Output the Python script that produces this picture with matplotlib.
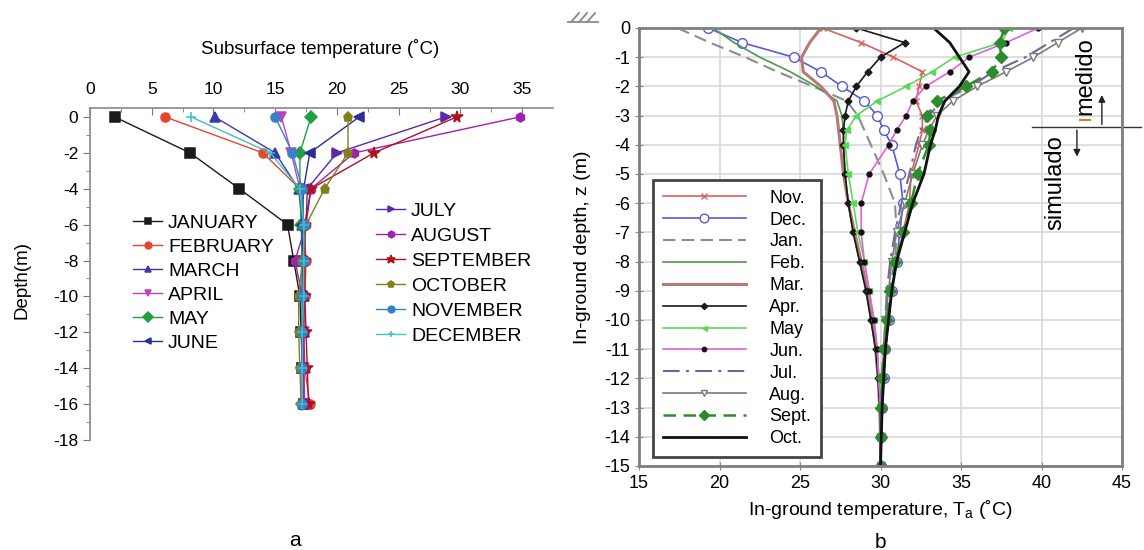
import matplotlib
matplotlib.use("Agg")
import matplotlib.pyplot as plt
from matplotlib.lines import Line2D

plt.rcParams['font.family'] = ['Liberation Sans', 'DejaVu Sans']
plt.rcParams['axes.unicode_minus'] = False
plt.rcParams['mathtext.fontset'] = 'custom'
plt.rcParams['mathtext.rm'] = 'Liberation Sans'
plt.rcParams['mathtext.it'] = 'Liberation Sans'

# ---------------- Panel a data ----------------
depth_a = [0, -2, -4, -6, -8, -10, -12, -14, -16]
months_a = ["JANUARY", "FEBRUARY", "MARCH", "APRIL", "MAY", "JUNE",
            "JULY", "AUGUST", "SEPTEMBER", "OCTOBER", "NOVEMBER", "DECEMBER"]
jan_a = [2.0, 8.1, 12.1, 16.0, 16.5, 17.0, 17.1, 17.2, 17.3]
feb_a = [6.1, 14.0, 17.0, 17.3, 17.5, 17.4, 17.3, 17.4, 17.8]
mar_a = [10.1, 15.0, 16.9, 17.2, 17.2, 17.3, 17.3, 17.3, 17.3]
apr_a = [15.5, 16.3, 17.0, 17.3, 17.2, 17.2, 17.3, 17.3, 17.4]
may_a = [17.9, 17.0, 17.0, 17.1, 17.2, 17.2, 17.2, 17.2, 17.2]
jun_a = [21.8, 17.8, 17.3, 17.2, 17.2, 17.2, 17.2, 17.2, 17.2]
jul_a = [28.8, 20.0, 17.6, 17.5, 17.3, 17.3, 17.3, 17.3, 17.3]
aug_a = [34.8, 21.4, 17.9, 17.5, 16.6, 17.2, 17.3, 17.3, 17.3]
sep_a = [29.7, 23.0, 17.9, 17.4, 17.4, 17.4, 17.5, 17.6, 17.7]
oct_a = [20.9, 20.9, 19.0, 17.5, 17.2, 16.9, 16.9, 17.0, 17.1]
nov_a = [15.0, 16.4, 17.2, 17.3, 17.3, 17.2, 17.2, 17.2, 17.2]
dec_a = [8.2, 14.6, 17.0, 17.3, 17.3, 17.3, 17.2, 17.2, 17.2]
series_a = [jan_a, feb_a, mar_a, apr_a, may_a, jun_a, jul_a, aug_a, sep_a, oct_a, nov_a, dec_a]
xticks_a = [0, 5, 10, 15, 20, 25, 30, 35]
yticks_a = [0, -2, -4, -6, -8, -10, -12, -14, -16, -18]

# ---------------- Panel b data ----------------
depth_b = [0, -0.5, -1, -1.5, -2, -2.5, -3, -3.5, -4, -5, -6, -7, -8, -9, -10, -11, -12, -13, -14, -15]
months_b = ["Nov.", "Dec.", "Jan.", "Feb.", "Mar.", "Apr.", "May", "Jun.", "Jul.", "Aug.", "Sept.", "Oct."]
nov_b = [26.4, 28.8, 30.8, 32.6, 32.4, 32.2, 32.6, 32.6, 32.4, 31.9, 31.8, 31.4, 31.0, 30.7, 30.5, 30.3, 30.2, 30.1, 30.05, 30.0]
dec_b = [19.3, 21.4, 24.6, 26.3, 27.6, 29.0, 29.8, 30.2, 30.7, 31.2, 31.4, 31.2, 31.0, 30.7, 30.5, 30.3, 30.2, 30.1, 30.05, 30.0]
jan_b = [17.4, 19.4, 21.6, 23.6, 25.8, 27.9, 28.6, 29.0, 29.4, 30.2, 30.9, 31.0, 30.9, 30.7, 30.5, 30.3, 30.2, 30.1, 30.05, 30.0]
feb_b = [19.6, 20.9, 22.5, 24.4, 26.0, 27.3, 27.6, 27.7, 27.7, 27.8, 28.0, 28.3, 28.7, 29.1, 29.4, 29.7, 29.85, 29.95, 30.0, 30.0]
mar_b = [26.3, 25.6, 25.1, 25.2, 26.3, 27.1, 27.3, 27.4, 27.5, 27.7, 28.0, 28.4, 28.8, 29.2, 29.5, 29.7, 29.85, 29.95, 30.0, 30.0]
apr_b = [28.5, 31.5, 30.0, 29.2, 28.5, 28.0, 27.8, 27.7, 27.7, 27.8, 28.0, 28.3, 28.7, 29.1, 29.4, 29.7, 29.85, 29.95, 30.0, 30.0]
may_b = [38.0, 37.5, 34.6, 33.2, 31.6, 29.8, 28.5, 27.9, 27.8, 28.0, 28.3, 28.6, 29.0, 29.3, 29.6, 29.8, 29.9, 30.0, 30.0, 30.0]
jun_b = [39.8, 37.8, 35.5, 34.3, 32.8, 32.0, 31.6, 31.0, 30.5, 29.3, 28.8, 28.8, 29.0, 29.3, 29.6, 29.8, 29.9, 30.0, 30.0, 30.0]
jul_b = [42.0, 40.5, 39.0, 37.0, 35.6, 33.8, 33.0, 32.5, 32.2, 31.8, 31.3, 30.9, 30.6, 30.4, 30.3, 30.2, 30.1, 30.05, 30.0, 30.0]
aug_b = [42.5, 41.0, 39.5, 37.8, 36.0, 34.5, 33.5, 33.0, 32.6, 32.0, 31.5, 31.0, 30.7, 30.5, 30.3, 30.2, 30.1, 30.05, 30.0, 30.0]
sep_b = [37.7, 37.4, 37.5, 36.9, 35.3, 33.5, 32.9, 33.1, 33.0, 32.3, 31.9, 31.4, 30.9, 30.6, 30.4, 30.2, 30.1, 30.05, 30.0, 30.0]
oct_b = [33.3, 34.3, 34.9, 35.5, 34.9, 34.0, 33.6, 33.4, 33.1, 32.7, 32.0, 31.5, 31.0, 30.7, 30.5, 30.3, 30.2, 30.1, 30.05, 30.0]
series_b = [nov_b, dec_b, jan_b, feb_b, mar_b, apr_b, may_b, jun_b, jul_b, aug_b, sep_b, oct_b]
xticks_b = [15, 20, 25, 30, 35, 40, 45]
yticks_b = list(range(0, -16, -1))

W, H = 1144, 550
fig = plt.figure(figsize=(W / 100, H / 100), dpi=100)

def fx(px):
    return px / W

def fy(py):
    return 1 - py / H

# ---------------- Panel a ----------------
axa = fig.add_axes([fx(90), fy(440), fx(553) - fx(90), fy(108) - fy(440)])
styles_a = [
    dict(color='#1a1a1a', marker='s'),
    dict(color='#e8452c', marker='o'),
    dict(color='#3a3aa8', marker='^'),
    dict(color='#c040c0', marker='v'),
    dict(color='#20a040', marker='D'),
    dict(color='#2c2c9c', marker='<'),
    dict(color='#5a28a8', marker='>'),
    dict(color='#a020b0', marker='h'),
    dict(color='#b01020', marker='*'),
    dict(color='#808018', marker='p'),
    dict(color='#3a80c8', marker='o'),
    dict(color='#40c0c0', marker='+'),
]
handles_a = []
for name, vals, st in zip(months_a, series_a, styles_a):
    h, = axa.plot(vals, depth_a, color=st['color'], marker=st['marker'], lw=1.0,
                  markersize=6.5 if st['marker'] != '*' else 8.5, label=name,
                  markeredgewidth=1.1)
    handles_a.append(h)

axa.set_xlim(0, 37.5)
axa.set_ylim(-18, 0.5)
axa.xaxis.tick_top()
axa.set_xticks(xticks_a)
axa.set_xticks([2.5 + 5 * i for i in range(7)], minor=True)
axa.set_yticks(yticks_a)
axa.set_yticks(list(range(-17, 0, 2)), minor=True)
axa.tick_params(axis='x', which='both', direction='in', color='#777', labelsize=12.5, pad=8)
axa.tick_params(axis='x', which='major', length=5)
axa.tick_params(axis='x', which='minor', length=3)
axa.tick_params(axis='y', which='both', direction='out', color='#777', labelsize=12.5)
axa.tick_params(axis='y', which='major', length=5)
axa.tick_params(axis='y', which='minor', length=3)
for s in ['right', 'bottom']:
    axa.spines[s].set_visible(False)
for s in ['left', 'top']:
    axa.spines[s].set_color('#888')
    axa.spines[s].set_linewidth(1.2)

leg1 = axa.legend(handles=handles_a[:6], loc='upper left',
                  frameon=False, fontsize=14, handlelength=1.5, handletextpad=0.3,
                  labelspacing=0.33, borderaxespad=0, borderpad=0, markerscale=0.75)
leg1.set_bbox_to_anchor((fx(133), fy(214)), transform=fig.transFigure)
axa.add_artist(leg1)
leg2 = axa.legend(handles=handles_a[6:], loc='upper left',
                  frameon=False, fontsize=14, handlelength=1.5, handletextpad=0.3,
                  labelspacing=0.38, borderaxespad=0, borderpad=0, markerscale=0.75)
leg2.set_bbox_to_anchor((fx(376), fy(202)), transform=fig.transFigure)

fig.text(fx(320), fy(48), "Subsurface temperature (˚C)", ha='center', va='center', fontsize=13.5)
fig.text(fx(22), fy(280), "Depth(m)", ha='center', va='center', rotation=90, fontsize=13.5)
fig.text(fx(295), fy(540), "a", ha='center', va='center', fontsize=15)

# ---------------- Panel b ----------------
axb = fig.add_axes([fx(639), fy(466), fx(1122) - fx(639), fy(28) - fy(466)])
styles_b = [
    dict(color='#d96060', ls='-', marker='x', ms=5, lw=1.2, mfc='#d96060'),
    dict(color='#5a5ad8', ls='-', marker='o', ms=7, lw=1.2, mfc='white'),
    dict(color='#8c8c8c', ls=(0, (6, 3)), marker=None, ms=0, lw=1.5, mfc='none'),
    dict(color='#4a9a4a', ls='-', marker=None, ms=0, lw=1.2, mfc='none'),
    dict(color='#b87878', ls='-', marker=None, ms=0, lw=2.2, mfc='none'),
    dict(color='#1a1a1a', ls='-', marker='D', ms=3.5, lw=1.2, mfc='#1a1a1a'),
    dict(color='#5ad85a', ls='-', marker='<', ms=4, lw=1.2, mfc='#5ad85a'),
    dict(color='#e060e0', ls='-', marker='o', ms=3.5, lw=1.2, mfc='#111'),
    dict(color='#6a6a9a', ls=(0, (8, 3, 1.5, 3)), marker=None, ms=0, lw=1.5, mfc='none'),
    dict(color='#7a7a7a', ls='-', marker='v', ms=5.5, lw=1.2, mfc='white'),
    dict(color='#2e8b2e', ls=(0, (5, 3)), marker='D', ms=6, lw=1.8, mfc='#2e8b2e'),
    dict(color='#111111', ls='-', marker=None, ms=0, lw=2.0, mfc='none'),
]
handles_b = []
for name, vals, st in zip(months_b, series_b, styles_b):
    h, = axb.plot(vals, depth_b, color=st['color'], ls=st['ls'], lw=st['lw'],
                  marker=st['marker'], markersize=st['ms'], mfc=st['mfc'],
                  mec=st['color'] if st['mfc'] != '#111' else '#111', label=name)
    handles_b.append(h)

axb.set_xlim(15, 45)
axb.set_ylim(-15, 0)
axb.set_xticks(xticks_b)
axb.set_yticks(yticks_b)
axb.grid(True, color='#d9d9d9', lw=1.2)
axb.set_axisbelow(True)
axb.tick_params(axis='both', direction='inout', length=6, color='#888', labelsize=13)
for s in axb.spines.values():
    s.set_color('#7f7f7f')
    s.set_linewidth(2)
axb.set_ylabel("In-ground depth, z (m)", fontsize=14, labelpad=9)
axb.set_xlabel("In-ground temperature, T$_{\\mathrm{a}}$ (˚C)", fontsize=14, labelpad=4)

legb = axb.legend(handles=handles_b, loc='lower left', bbox_to_anchor=(0.029, 0.02),
                  fontsize=13, handlelength=4.6, handletextpad=1.3, labelspacing=0.27,
                  borderpad=0.55, borderaxespad=0, fancybox=False, framealpha=1,
                  edgecolor='#444', markerscale=0.9)
legb.get_frame().set_linewidth(2)

# measured / simulated annotation
axb.plot([39.4, 46.2], [-3.4, -3.4], color='#333', lw=1, clip_on=False)
axb.annotate("", xy=(43.75, -2.2), xytext=(43.75, -3.4),
             arrowprops=dict(arrowstyle='-|>', color='#222', lw=1, mutation_scale=10),
             annotation_clip=False)
axb.annotate("", xy=(42.2, -4.5), xytext=(42.2, -3.4),
             arrowprops=dict(arrowstyle='-|>', color='#222', lw=1, mutation_scale=10),
             annotation_clip=False)
axb.plot([42.4, 43.0], [-3.15, -3.15], color='#d08030', lw=1.5, clip_on=False)
axb.text(42.7, -1.65, "medido", rotation=90, ha='center', va='center', fontsize=17)
axb.text(40.85, -5.3, "simulado", rotation=90, ha='center', va='center', fontsize=17)

fig.text(fx(880), fy(542), "b", ha='center', va='center', fontsize=15)

# ground hatch symbol
for k in range(3):
    x0 = 572 + 8 * k
    fig.add_artist(Line2D([fx(x0), fx(x0 + 7)], [fy(21), fy(13)], color='#888', lw=1.3))
fig.add_artist(Line2D([fx(568), fx(598)], [fy(22), fy(22)], color='#888', lw=1.3))

fig.savefig("out.png", dpi=100)
